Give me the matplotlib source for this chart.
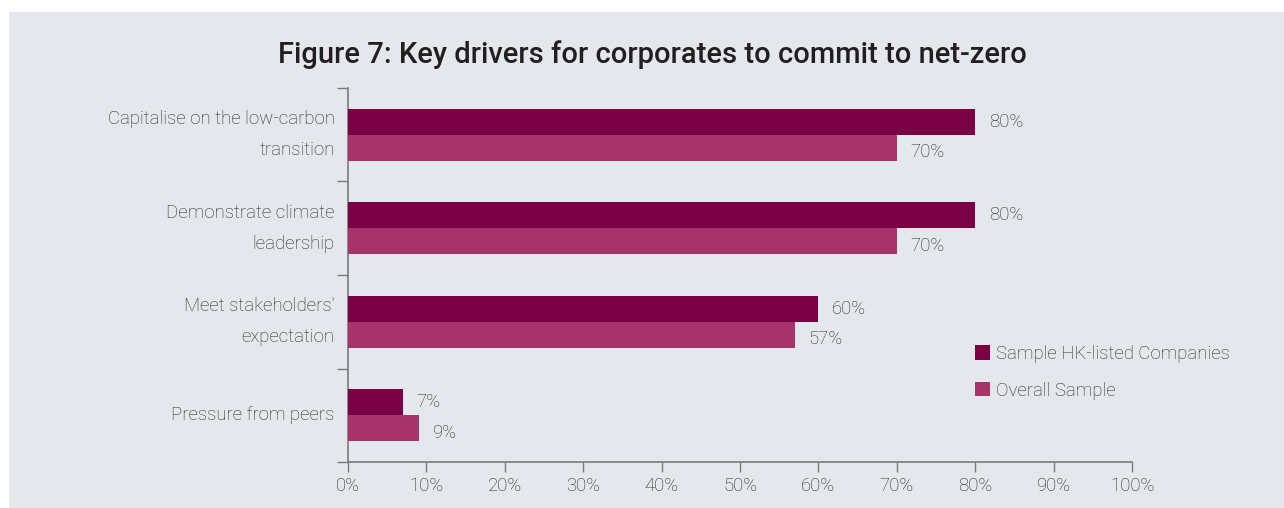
import matplotlib
matplotlib.use("Agg")
import matplotlib.pyplot as plt
from matplotlib.patches import Rectangle
import numpy as np

plt.rcParams['font.family'] = ['Roboto', 'DejaVu Sans']

categories = [
    "Capitalise on the low-carbon\ntransition",
    "Demonstrate climate\nleadership",
    "Meet stakeholders'\nexpectation",
    "Pressure from peers",
]
hk_listed = [80, 80, 60, 7]
overall = [70, 70, 57, 9]
series_names = ["Sample HK-listed Companies", "Overall Sample"]
x_ticks = [0, 10, 20, 30, 40, 50, 60, 70, 80, 90, 100]
title = "Figure 7: Key drivers for corporates to commit to net-zero"

W, H = 1284, 508
BG = "#E4E8EC"
C_HK = "#7A0045"
C_ALL = "#A6336A"
TXT = "#262626"
SPINE = "#7A7A7A"
FS = 13.4

fig = plt.figure(figsize=(W / 100, H / 100), dpi=100, facecolor="white")
# background panel
fig.patches.append(Rectangle((9 / W, 0), 1 - 9 / W, (H - 12) / H,
                             transform=fig.transFigure, facecolor=BG,
                             edgecolor="none", zorder=-10))

ax = fig.add_axes([348 / W, (H - 462) / H, (1132 - 348) / W, (462 - 88) / H])
ax.set_facecolor("none")
ax.set_zorder(5)

y = np.arange(len(categories))
bh = 0.28
ax.barh(y - bh / 2, hk_listed, height=bh, color=C_HK, label=series_names[0], zorder=3)
ax.barh(y + bh / 2, overall, height=bh, color=C_ALL, label=series_names[1], zorder=3)

for yi, v in zip(y, hk_listed):
    ax.annotate(f"{v}%", xy=(v, yi - bh / 2), xytext=(10, 0), textcoords="offset points",
                va="center", ha="left", fontsize=FS, color=TXT, fontweight="light")
for yi, v in zip(y, overall):
    ax.annotate(f"{v}%", xy=(v, yi + bh / 2), xytext=(10, -3), textcoords="offset points",
                va="center", ha="left", fontsize=FS, color=TXT, fontweight="light")

ax.set_xlim(0, 100)
ax.set_ylim(len(categories) - 0.5, -0.5)

ax.set_xticks(x_ticks)
ax.set_xticklabels([f"{t}%" for t in x_ticks])
ax.set_yticks(y)
ax.set_yticklabels(categories, linespacing=1.9, va="center")
ax.set_yticks(np.arange(-0.5, len(categories)), minor=True)

ax.tick_params(axis="y", which="major", length=0, pad=9.5, labelsize=FS, labelcolor=TXT)
ax.tick_params(axis="y", which="minor", length=8, width=1, color=SPINE, direction="out")
ax.tick_params(axis="x", which="major", length=7, width=1, color=SPINE, direction="out",
               pad=4, labelsize=FS, labelcolor=TXT)
for lab in ax.get_xticklabels() + ax.get_yticklabels():
    lab.set_fontweight("light")

for s in ["top", "right"]:
    ax.spines[s].set_visible(False)
for s in ["left", "bottom"]:
    ax.spines[s].set_color(SPINE)
    ax.spines[s].set_linewidth(1.2)

fig.text(652 / W, (H - 55) / H, title, ha="center", va="center",
         fontsize=21, fontweight="medium", color="#231F20")

leg = ax.legend(loc="upper left", bbox_to_anchor=(975 / W, (H - 345) / H),
                bbox_transform=fig.transFigure, frameon=False, fontsize=FS,
                handlelength=0.8, handleheight=0.8, handletextpad=0.35,
                labelspacing=1.0, borderpad=0, borderaxespad=0)
for t in leg.get_texts():
    t.set_color(TXT)
    t.set_fontweight("light")

fig.savefig("out.png", dpi=100, facecolor=fig.get_facecolor())
